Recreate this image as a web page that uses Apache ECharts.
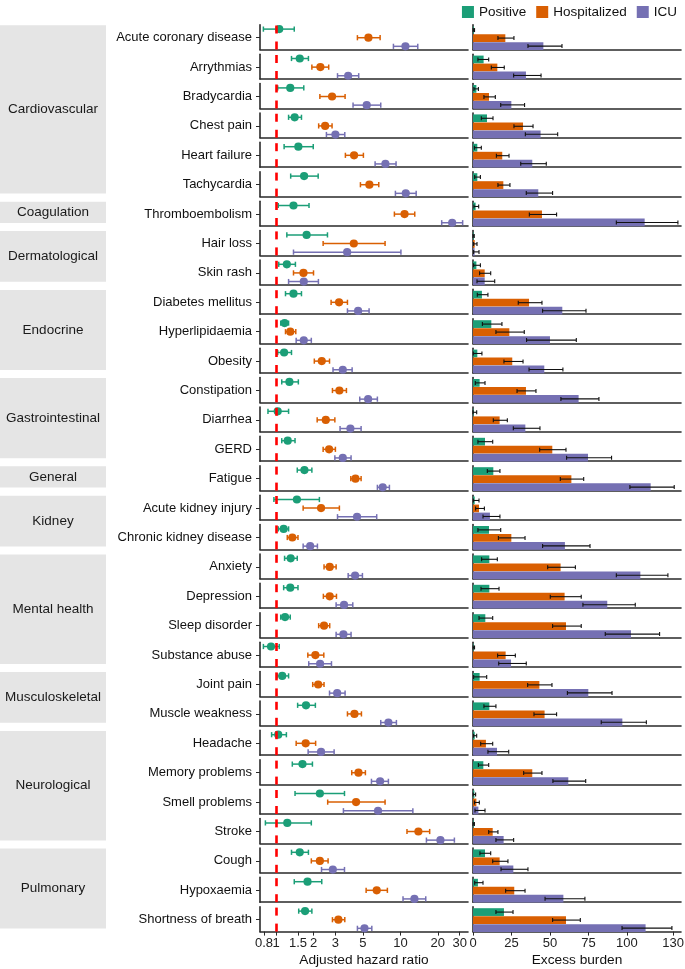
<!DOCTYPE html>
<html><head><meta charset="utf-8">
<script src="https://cdn.jsdelivr.net/npm/echarts@6/dist/echarts.min.js"></script>
<style>html,body{margin:0;padding:0;background:#fff}#c{width:685px;height:969px}</style>
</head><body><div id="c"></div><script>
// ---------------- DATA ----------------
const outcomes = ['Acute coronary disease','Arrythmias','Bradycardia','Chest pain','Heart failure','Tachycardia',
 'Thromboembolism','Hair loss','Skin rash','Diabetes mellitus','Hyperlipidaemia','Obesity','Constipation','Diarrhea','GERD',
 'Fatigue','Acute kidney injury','Chronic kidney disease','Anxiety','Depression','Sleep disorder','Substance abuse',
 'Joint pain','Muscle weakness','Headache','Memory problems','Smell problems','Stroke','Cough','Hypoxaemia','Shortness of breath'];
const groups = ['Cardiovascular','Coagulation','Dermatological','Endocrine','Gastrointestinal','General','Kidney','Mental health','Musculoskeletal','Neurological','Pulmonary'];
const groupSizes = [6,1,2,3,3,1,2,4,2,4,3];
const seriesNames = ['Positive','Hospitalized','ICU'];

// adjusted hazard ratios with 95% CI
const posHR  = [1.06,1.55,1.30,1.41,1.51,1.68,1.38,1.76,1.22,1.38,1.17,1.16,1.28,1.03,1.24,1.69,1.47,1.15,1.31,1.30,1.18,0.91,1.12,1.74,1.04,1.63,2.25,1.23,1.55,1.79,1.71];
const posLo  = [0.79,1.33,1.03,1.26,1.16,1.31,1.04,1.22,1.05,1.19,1.09,1.03,1.11,0.86,1.11,1.48,0.96,1.04,1.17,1.15,1.09,0.79,1.02,1.49,0.92,1.35,1.42,0.82,1.33,1.40,1.52];
const posHi  = [1.40,1.82,1.67,1.60,1.99,2.18,1.84,2.59,1.43,1.60,1.26,1.33,1.51,1.26,1.42,1.94,2.23,1.26,1.48,1.50,1.30,1.06,1.26,2.07,1.21,1.96,3.55,1.92,1.82,2.33,1.94];
const hospHR = [5.53,2.27,2.82,2.48,4.24,5.63,10.8,4.22,1.66,3.21,1.30,2.33,3.23,2.51,2.67,4.35,2.30,1.35,2.70,2.70,2.43,2.07,2.18,4.27,1.73,4.60,4.40,13.96,2.25,6.45,3.17];
const hospLo = [4.51,1.94,2.25,2.20,3.61,4.77,8.95,2.39,1.38,2.77,1.19,2.03,2.84,2.14,2.39,3.99,1.65,1.23,2.43,2.40,2.20,1.80,1.97,3.75,1.45,4.06,2.60,11.3,1.92,5.30,2.84];
const hospHi = [6.87,2.65,3.59,2.82,5.04,6.70,13.05,7.53,2.00,3.75,1.44,2.69,3.68,2.97,3.00,4.83,3.23,1.50,3.04,3.06,2.70,2.42,2.43,4.86,2.08,5.23,7.53,17.2,2.62,7.86,3.57];
const icuHR  = [10.98,3.80,5.36,3.00,7.58,11.05,26.1,3.73,1.67,4.57,1.67,3.44,5.50,3.96,3.44,7.21,4.48,1.88,4.32,3.52,3.48,2.26,3.10,8.01,2.30,6.87,6.61,21.0,2.86,12.97,5.14];
const icuLo  = [8.79,3.12,4.16,2.54,6.26,9.12,21.5,1.38,1.26,3.75,1.45,2.87,4.71,3.27,2.97,6.53,3.12,1.65,3.80,3.04,3.04,1.83,2.69,6.95,1.81,5.85,3.48,16.2,2.32,10.5,4.51];
const icuHi  = [13.8,4.62,6.95,3.57,9.23,13.4,31.7,10.1,2.19,5.60,1.92,4.09,6.53,4.83,4.01,8.16,6.45,2.15,4.95,4.14,4.01,2.79,3.59,9.29,2.93,8.01,12.6,27.2,3.55,16.0,5.89];

// excess burden with 95% CI
const posEB    = [0.5,6.9,2.2,9.1,2.8,2.8,1.7,0.3,2.2,5.8,11.9,2.8,4.3,0.3,7.8,13.2,1.1,10.4,10.6,10.6,8.0,0.4,4.3,10.6,1.1,6.7,0.9,0.4,7.8,3.2,20.1];
const posEBlo  = [0.1,3.2,0.6,5.4,0.9,1.1,0.6,0.0,0.4,2.8,6.1,0.2,1.5,0.0,3.2,9.3,0.2,3.2,5.6,5.2,3.9,0.1,0.4,7.1,0.4,3.5,0.1,0.0,4.5,1.1,14.9];
const posEBhi  = [1.0,10.2,3.5,13.0,5.4,4.8,3.7,0.8,4.8,9.7,18.8,5.8,7.8,2.4,12.8,17.5,3.9,18.0,15.8,16.9,12.8,1.0,8.9,14.9,2.4,10.2,1.7,0.9,11.5,6.5,26.0];
const hospEB   = [21.0,15.8,10.4,32.5,19.0,19.7,44.8,1.1,7.6,36.4,23.6,25.5,34.4,17.3,51.5,63.9,3.9,24.9,56.9,59.5,60.4,21.2,43.1,46.5,8.4,38.5,2.2,12.8,17.3,26.8,60.4];
const hospEBlo = [16.2,11.9,7.1,26.6,15.2,16.2,36.6,0.4,4.3,29.4,14.9,20.1,28.6,13.2,43.3,56.7,1.7,16.5,48.5,50.2,51.7,16.0,35.5,39.6,5.0,32.9,0.9,10.2,12.8,21.2,51.7];
const hospEBhi = [26.6,20.3,14.5,39.0,23.4,24.0,54.3,2.6,11.5,44.8,33.3,32.5,40.9,22.3,60.4,71.9,7.4,33.8,66.5,70.3,70.3,27.5,51.3,54.3,12.8,44.8,4.1,16.2,22.7,33.8,69.7];
const icuEB    = [45.7,34.4,24.9,43.9,38.5,42.4,111.5,1.0,7.6,58.0,50.0,46.3,68.6,34.0,74.7,115.4,11.0,59.7,108.7,87.2,102.6,24.7,74.9,97.0,15.6,61.9,3.5,19.9,26.2,58.7,112.1];
const icuEBlo  = [35.7,26.4,18.0,34.0,31.0,34.6,93.1,0.4,2.6,45.2,34.8,36.4,57.1,26.2,60.8,101.9,6.5,45.2,93.1,71.4,85.9,16.7,61.3,83.3,9.7,51.9,1.3,14.9,18.2,46.8,96.8];
const icuEBhi  = [57.8,44.2,33.5,55.0,47.6,51.7,133.1,3.9,14.1,73.4,67.1,58.4,81.8,43.5,90.0,130.7,17.5,76.0,126.6,105.4,121.2,34.6,90.3,112.6,23.2,73.2,7.8,26.4,35.7,72.7,129.2];

const hrTicks = [0.8,1,1.5,2,3,5,10,20,30];
const ebTicks = [0,25,50,75,100,130];
const refHR = 1;
const hrRange = [0.742, 35.0];
const ebRange = [0, 135.1];

// ---------------- STYLE / LAYOUT ----------------
const colors = ['#1B9E77','#D95F02','#7570B3'];
const FONT = 'Liberation Sans, Arial, Helvetica, sans-serif';
const ROW0_BOTTOM = 49.6, PITCH = 29.4, PANEL_H = 24.8;
const F_LEFT = 260, F_W = 208, B_LEFT = 473, B_W = 208;
const AXIS_COL = '#2a2a2a';

const hrSets = [[posHR,posLo,posHi],[hospHR,hospLo,hospHi],[icuHR,icuLo,icuHi]];
const ebSets = [[posEB,posEBlo,posEBhi],[hospEB,hospEBlo,hospEBhi],[icuEB,icuEBlo,icuEBhi]];
const L = Math.log10;
const N = outcomes.length;
const fmtHR = v => String(+Math.pow(10, v).toPrecision(3));
// the tick labels are split over two axes so that neighbouring labels (0.8/1, 1.5/2) both stay visible
const hrLabelsA = hrTicks.filter((_, k) => k % 2 === 0).map(L);
const hrLabelsB = hrTicks.filter((_, k) => k % 2 === 1).map(L);

function forestRender(color){
  return function(params, api){
    const y = api.value(3);
    const c = api.coord([api.value(0), y]);
    const lo = api.coord([api.value(1), y]);
    const hi = api.coord([api.value(2), y]);
    const cap = 2.6, st = {stroke: color, lineWidth: 1.5};
    return {type:'group', children:[
      {type:'line', shape:{x1:lo[0],y1:c[1],x2:hi[0],y2:c[1]}, style:st},
      {type:'line', shape:{x1:lo[0],y1:c[1]-cap,x2:lo[0],y2:c[1]+cap}, style:st},
      {type:'line', shape:{x1:hi[0],y1:c[1]-cap,x2:hi[0],y2:c[1]+cap}, style:st},
      {type:'circle', shape:{cx:c[0],cy:c[1],r:4.1}, style:{fill:color}}
    ]};
  };
}
function barRender(color){
  return function(params, api){
    const y = api.value(3);
    const p0 = api.coord([0, y]);
    const p1 = api.coord([api.value(0), y]);
    const lo = api.coord([api.value(1), y]);
    const hi = api.coord([api.value(2), y]);
    const h = api.size([0, 1])[1] * 0.97;
    const cap = 2.0, st = {stroke:'#111', lineWidth:1.1};
    return {type:'group', children:[
      {type:'rect', shape:{x:p0[0], y:p0[1]-h/2, width:Math.max(p1[0]-p0[0],0.6), height:h}, style:{fill:color}},
      {type:'line', shape:{x1:lo[0],y1:p1[1],x2:hi[0],y2:p1[1]}, style:st},
      {type:'line', shape:{x1:lo[0],y1:p1[1]-cap,x2:lo[0],y2:p1[1]+cap}, style:st},
      {type:'line', shape:{x1:hi[0],y1:p1[1]-cap,x2:hi[0],y2:p1[1]+cap}, style:st}
    ]};
  };
}

const grid = [], xAxis = [], yAxis = [], series = [];
const axisLineStyle = {show:true, onZero:false, lineStyle:{color:AXIS_COL, width:1.6}};
const labelBase = {margin:5, fontSize:13, color:'#222', fontFamily:FONT, hideOverlap:false, showMinLabel:true, showMaxLabel:true};
for (let i = 0; i < N; i++) {
  const bottom = ROW0_BOTTOM + PITCH * i, top = bottom - PANEL_H;
  const last = i === N - 1;
  grid.push({left:F_LEFT, top:top, width:F_W, height:PANEL_H, outerBoundsMode:'none', containLabel:false});
  grid.push({left:B_LEFT, top:top, width:B_W, height:PANEL_H, outerBoundsMode:'none', containLabel:false});
  const gf = 2*i, gb = 2*i+1;
  xAxis.push({type:'value', gridIndex:gf, position:'bottom', min:L(hrRange[0]), max:L(hrRange[1]),
    axisLine:axisLineStyle, splitLine:{show:false},
    axisTick:{show:last, length:4, lineStyle:{color:AXIS_COL}, customValues: hrTicks.map(L)},
    axisLabel:Object.assign({show:last, customValues: hrLabelsA, formatter: fmtHR}, labelBase),
    name: last ? 'Adjusted hazard ratio' : '', nameLocation:'middle', nameGap:22,
    nameTextStyle:{fontSize:13.7, color:'#111', fontFamily:FONT}
  });
  xAxis.push({type:'value', gridIndex:gb, position:'bottom', min:ebRange[0], max:ebRange[1],
    axisLine:axisLineStyle, splitLine:{show:false},
    axisTick:{show:last, length:4, lineStyle:{color:AXIS_COL}, customValues: ebTicks},
    axisLabel:Object.assign({show:last, customValues: ebTicks}, labelBase),
    name: last ? 'Excess burden' : '', nameLocation:'middle', nameGap:22,
    nameTextStyle:{fontSize:13.7, color:'#111', fontFamily:FONT}
  });
  yAxis.push({type:'value', gridIndex:gf, min:-0.38, max:2.5,
    axisLine:axisLineStyle, splitLine:{show:false},
    axisTick:{show:true, length:4, lineStyle:{color:AXIS_COL}, customValues:[1]},
    axisLabel:{show:true, margin:8, fontSize:13, color:'#111', fontFamily:FONT, customValues:[1],
      showMinLabel:true, showMaxLabel:true,
      formatter: (() => { const name = outcomes[i]; return () => name; })()}
  });
  yAxis.push({type:'value', gridIndex:gb, min:-0.44, max:2.66,
    axisLine:axisLineStyle, splitLine:{show:false},
    axisTick:{show:false}, axisLabel:{show:false}
  });
  series.push({type:'line', xAxisIndex:gf, yAxisIndex:gf, data:[], silent:true, z:1,
    markLine:{silent:true, symbol:['none','none'], label:{show:false}, animation:false,
      lineStyle:{color:'#FF0000', type:[8,8], width:2.6}, emphasis:{disabled:true},
      data:[{xAxis: L(refHR)}]}
  });
  for (let s = 0; s < 3; s++) {
    const [v, lo, hi] = hrSets[s];
    series.push({type:'custom', name:seriesNames[s], xAxisIndex:gf, yAxisIndex:gf, z:3, silent:true,
      itemStyle:{color:colors[s]}, renderItem:forestRender(colors[s]), clip:false,
      data:[[L(v[i]), L(lo[i]), L(hi[i]), 2 - s]]});
    const [b, blo, bhi] = ebSets[s];
    series.push({type:'custom', name:seriesNames[s], xAxisIndex:gb, yAxisIndex:gb, z:3, silent:true,
      itemStyle:{color:colors[s]}, renderItem:barRender(colors[s]), clip:false,
      data:[[b[i], blo[i], bhi[i], 2 - s]]});
  }
}
// second label axis for the bottom forest panel
xAxis.push({type:'value', gridIndex:2*(N-1), position:'bottom', offset:0, min:L(hrRange[0]), max:L(hrRange[1]),
  axisLine:{show:false}, axisTick:{show:false}, splitLine:{show:false},
  axisLabel:Object.assign({show:true, customValues: hrLabelsB, formatter: fmtHR}, labelBase)
});

// group strips
const graphic = [];
let start = 0;
groups.forEach((g, k) => {
  const a = start, b = start + groupSizes[k] - 1;
  start += groupSizes[k];
  const top = ROW0_BOTTOM + PITCH * a - PANEL_H + 0.5;
  const bot = ROW0_BOTTOM + PITCH * b - 3;
  graphic.push({type:'rect', left:0, top:top, shape:{x:0, y:0, width:106, height:bot-top}, style:{fill:'#e5e5e5'}, silent:true});
  graphic.push({type:'text', x:53, y:(top+bot)/2, silent:true,
    style:{text:g, fill:'#1a1a1a', font:'13.5px ' + FONT, textAlign:'center', textVerticalAlign:'middle', align:'center', verticalAlign:'middle'}});
});

const chart = echarts.init(document.getElementById('c'), null, {renderer:'canvas'});
chart.setOption({
  animation:false,
  textStyle:{fontFamily:FONT},
  legend:{top:0, right:3, icon:'rect', itemWidth:12, itemHeight:12, itemGap:10, selectedMode:false,
    textStyle:{fontSize:13.5, color:'#111', fontFamily:FONT},
    data: seriesNames.map((n, k) => ({name:n, itemStyle:{color:colors[k]}}))},
  grid, xAxis, yAxis, series, graphic
});
</script></body></html>
